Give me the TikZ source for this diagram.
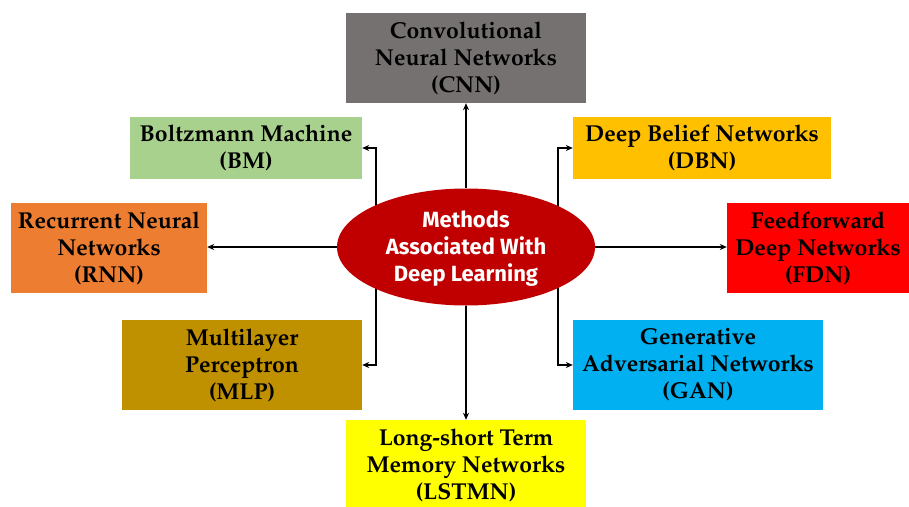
\documentclass[tikz,border=0pt]{standalone}
\usepackage[T1]{fontenc}
\usepackage{fontspec}
\usetikzlibrary{shapes.geometric,arrows.meta,backgrounds,calc}
\newfontfamily\centerfont{Fira Sans}
\newcommand\boxfont{\fontencoding{T1}\fontfamily{ppl}\fontseries{b}\fontshape{n}\fontsize{23}{27}\selectfont}

\definecolor{cnngray}{HTML}{767171}
\definecolor{bmgreen}{HTML}{A9D18E}
\definecolor{dbngold}{HTML}{FFC000}
\definecolor{rnnorange}{HTML}{ED7D31}
\definecolor{fdnred}{HTML}{FF0000}
\definecolor{mlpbrown}{HTML}{BF9000}
\definecolor{gancyan}{HTML}{00B0F0}
\definecolor{lstmyellow}{HTML}{FFFF00}
\definecolor{hubred}{HTML}{C00000}

\tikzset{
  method/.style={rectangle, inner sep=0pt, align=center, text=black,
    font=\boxfont},
  hub/.style={ellipse, fill=hubred, inner sep=0pt, minimum width=258pt,
    minimum height=117pt, align=center, text=white,
    font=\centerfont\bfseries\fontsize{22}{27}\selectfont},
  link/.style={line width=1.8pt, -{Stealth[length=7pt,width=6pt]}}
}

\begin{document}
\begin{tikzpicture}[x=1pt,y=-1pt]
  \useasboundingbox (0,0) rectangle (909,506);

  % central topic
  \node[hub] (hub) at (466,247) {};
  \node[align=center, text=white, font=\centerfont\bfseries\fontsize{22}{27}\selectfont]
    (hubtext) at (466,249) {Methods\\Associated With\\Deep Learning};

  % method boxes
  \node[method, fill=cnngray, minimum width=240pt, minimum height=90pt] (cnn) at (466,58)
    {Convolutional\\Neural Networks\\(CNN)};
  \node[method, fill=bmgreen, minimum width=232pt, minimum height=62pt] (bm) at (246,148)
    {Boltzmann Machine\\(BM)};
  \node[method, fill=dbngold, minimum width=258pt, minimum height=62pt] (dbn) at (702,148)
    {Deep Belief Networks\\(DBN)};
  \node[method, fill=rnnorange, minimum width=196pt, minimum height=90pt] (rnn) at (109,248)
    {Recurrent Neural\\Networks\\(RNN)};
  \node[method, fill=fdnred, minimum width=182pt, minimum height=90pt] (fdn) at (818,248)
    {Feedforward\\Deep Networks\\(FDN)};
  \node[method, fill=mlpbrown, minimum width=240pt, minimum height=90pt] (mlp) at (242,365)
    {Multilayer\\Perceptron\\(MLP)};
  \node[method, fill=gancyan, minimum width=250pt, minimum height=90pt] (gan) at (698,365)
    {Generative\\Adversarial Networks\\(GAN)};
  \node[method, fill=lstmyellow, minimum width=240pt, minimum height=90pt] (lstm) at (466,465)
    {Long-short Term\\Memory Networks\\(LSTMN)};

  % connectors, tucked behind the central ellipse
  \begin{pgfonlayer}{background}
    \coordinate (lft) at ($(hub.center)+(-90,0)$);
    \coordinate (rgt) at ($(hub.center)+(92,0)$);
    \draw[link] (hub.north) -- (cnn.south);
    \draw[link] (hub.south) -- (lstm.north);
    \draw[link] (hub.west) -- (hub.west -| rnn.east);
    \draw[link] (hub.east) -- (hub.east -| fdn.west);
    \draw[link] (lft) |- (bm.east);
    \draw[link] (lft) |- (mlp.east);
    \draw[link] (rgt) |- (dbn.west);
    \draw[link] (rgt) |- (gan.west);
  \end{pgfonlayer}
\end{tikzpicture}
\end{document}
